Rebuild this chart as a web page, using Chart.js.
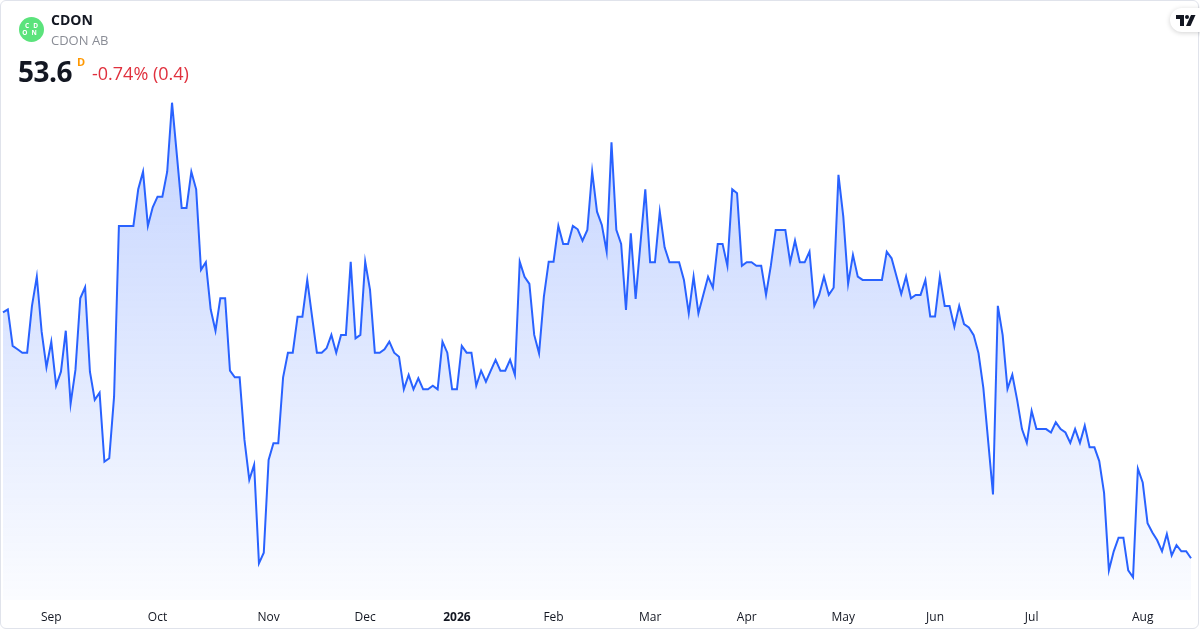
<!DOCTYPE html>
<html>
<head>
<meta charset="utf-8">
<script src="https://cdn.jsdelivr.net/npm/chart.js@4.4.1/dist/chart.umd.min.js"></script>
<style>
  html, body { margin: 0; padding: 0; background: #fff; }
  body { width: 1200px; height: 630px; overflow: hidden; font-family: "Open Sans", "Noto Sans", sans-serif; }
  .frame {
    position: absolute; left: 0; top: 0; width: 1197px; height: 627px;
    border: 1px solid #e0e3eb; border-radius: 6px; overflow: hidden;
  }
  .chart-wrap { position: absolute; left: 0; top: 0; width: 1200px; height: 630px; }
  .head { position: absolute; left: 0; top: 0; z-index: 2; }
  .logo {
    position: absolute; left: 19px; top: 17px; width: 25px; height: 25px; border-radius: 50%;
    background: #5be37c; color: #fff; font-size: 6.5px; font-weight: 700; line-height: 7px;
    text-align: center; letter-spacing: 4px; padding-top: 5px; box-sizing: border-box; text-indent: 4px;
  }
  .sym { position: absolute; left: 51px; top: 10px; font-size: 14px; font-weight: 700; color: #131722; }
  .name { position: absolute; left: 51px; top: 31px; font-size: 13px; color: #8a8d96; white-space: nowrap; }
  .price { position: absolute; left: 18px; top: 52px; font-size: 28px; font-weight: 700; color: #131722; letter-spacing: -0.5px; }
  .tf { position: absolute; left: 77px; top: 54px; font-size: 11px; font-weight: 700; color: #ff9800; }
  .chg { position: absolute; left: 92px; top: 61px; font-size: 18px; color: #e0313e; white-space: nowrap; }
  .tv {
    position: absolute; left: 1170px; top: 8px; width: 36px; height: 24px; border-radius: 12px 0 0 12px;
    background: #fff; box-shadow: 0 1px 5px rgba(0,0,0,.18); z-index: 2;
  }
  .tv svg { position: absolute; left: 6px; top: 7px; }
</style>
</head>
<body>
<div class="frame"></div>
<div class="chart-wrap"><canvas id="chartPrice"></canvas></div>

<div class="head">
  <div class="logo">CD<br>ON</div>
  <div class="sym">CDON</div>
  <div class="name">CDON AB</div>
  <div class="price">53.6</div>
  <div class="tf">D</div>
  <div class="chg">-0.74% (0.4)</div>
</div>
<div class="tv">
  <svg width="20" height="11" viewBox="0 0 20 11">
    <path d="M0 0h8v11h-4v-7h-4z" fill="#131722"/>
    <circle cx="11" cy="2" r="2" fill="#131722"/>
    <path d="M15 0h4.5l-5 11h-4.5z" fill="#131722"/>
  </svg>
</div>

<script>
/* ============================
   Data (daily close, SEK)
   ============================ */

const closes = [
  65.90, 66.05, 64.22, 64.05, 63.88, 63.88, 66.22, 67.68, 64.93, 63.15,
  64.43, 62.23, 62.93, 64.98, 61.32, 63.02, 66.60, 67.15, 62.93, 61.52,
  61.88, 58.43, 58.60, 61.68, 70.22, 70.22, 70.22, 70.22, 72.05, 72.93,
  70.22, 71.15, 71.68, 71.68, 72.93, 76.38, 73.77, 71.12, 71.12, 72.93,
  72.05, 68.02, 68.40, 66.05, 64.98, 66.60, 66.60, 62.98, 62.65, 62.65,
  59.52, 57.52, 58.27, 53.35, 53.88, 58.52, 59.35, 59.35, 62.65, 63.88,
  63.88, 65.68, 65.68, 67.52, 65.68, 63.88, 63.88, 64.10, 64.77, 63.88,
  64.77, 64.77, 68.43, 64.60, 64.77, 68.43, 67.02, 63.88, 63.88, 64.05,
  64.43, 63.88, 63.68, 62.05, 62.77, 62.05, 62.60, 62.05, 62.05, 62.23,
  62.05, 64.43, 63.88, 62.05, 62.05, 64.22, 63.88, 63.88, 62.23, 62.98,
  62.43, 62.98, 63.52, 62.98, 62.98, 63.52, 62.77, 68.43, 67.68, 67.32,
  64.77, 63.85, 66.68, 68.43, 68.43, 70.22, 69.32, 69.32, 70.22, 70.05,
  69.48, 70.02, 72.93, 70.93, 70.27, 68.93, 74.40, 70.02, 69.32, 66.02,
  69.85, 66.57, 69.35, 72.05, 68.40, 68.40, 70.93, 69.15, 68.40, 68.40,
  68.40, 67.52, 65.85, 67.68, 65.85, 66.77, 67.68, 67.13, 69.32, 69.32,
  68.22, 72.05, 71.85, 68.22, 68.40, 68.40, 68.23, 68.23, 66.77, 68.23,
  70.02, 70.02, 70.02, 68.40, 69.48, 68.40, 68.40, 68.93, 66.22, 66.77,
  67.68, 66.77, 67.13, 72.77, 70.68, 67.32, 68.77, 67.68, 67.52, 67.52,
  67.52, 67.52, 67.52, 68.93, 68.60, 67.72, 66.82, 67.69, 66.60, 66.77,
  66.77, 67.51, 65.69, 65.69, 67.69, 66.22, 66.22, 65.17, 66.22, 65.31,
  65.14, 64.76, 63.85, 62.12, 59.46, 56.79, 66.22, 64.76, 62.07, 62.78,
  61.52, 60.06, 59.37, 60.97, 60.06, 60.06, 60.06, 59.89, 60.40, 60.06,
  59.89, 59.37, 60.06, 59.37, 60.23, 59.15, 59.15, 58.46, 56.87, 53.00,
  53.95, 54.63, 54.63, 53.00, 52.65, 58.08, 57.39, 55.36, 54.89, 54.50,
  53.95, 54.81, 53.74, 54.26, 53.95, 53.95, 53.60
];

// first trading day of each month (index into closes)
const monthNames = ["Sep", "Oct", "Nov", "Dec", "2026", "Feb", "Mar", "Apr", "May", "Jun", "Jul", "Aug"];
const monthStart = [10, 32, 55, 75, 94, 114, 134, 154, 174, 193, 213, 236];

const yMin = 51.515;
const yMax = 81.515;

/* ============================
   Chart
   ============================ */

const labels = closes.map((_, i) => {
  const k = monthStart.indexOf(i);
  return k >= 0 ? monthNames[k] : "";
});

const ctx = document.getElementById("chartPrice");

function areaFill(context) {
  const { chart } = context;
  const area = chart.chartArea;
  if (!area) return "rgba(41,98,255,0.15)";
  const g = chart.ctx.createLinearGradient(0, area.top + 100, 0, area.bottom);
  g.addColorStop(0, "rgba(41,98,255,0.28)");
  g.addColorStop(1, "rgba(41,98,255,0.02)");
  return g;
}

new Chart(ctx, {
  type: "line",
  data: {
    labels,
    datasets: [{
      data: closes,
      borderColor: "#2962ff",
      borderWidth: 2,
      pointRadius: 0,
      tension: 0,
      fill: "start",
      backgroundColor: areaFill
    }]
  },
  options: {
    responsive: true,
    maintainAspectRatio: false,
    animation: false,
    layout: { padding: { left: 3, right: 9, top: 0, bottom: 0 } },
    plugins: {
      legend: { display: false },
      tooltip: { enabled: false }
    },
    scales: {
      x: {
        offset: false,
        grid: { display: false, drawTicks: false },
        border: { display: false },
        afterFit: s => {
          s.height = 30;
          s.paddingLeft = 0;
          s.paddingRight = 0;
        },
        ticks: {
          autoSkip: false,
          maxRotation: 0,
          minRotation: 0,
          padding: 10,
          color: "#131722",
          font: c => ({
            family: "'Open Sans', 'Noto Sans', sans-serif",
            size: 12,
            weight: c.tick && c.tick.label === "2026" ? "bold" : "normal"
          })
        }
      },
      y: {
        display: false,
        min: yMin,
        max: yMax
      }
    }
  }
});
</script>
</body>
</html>
